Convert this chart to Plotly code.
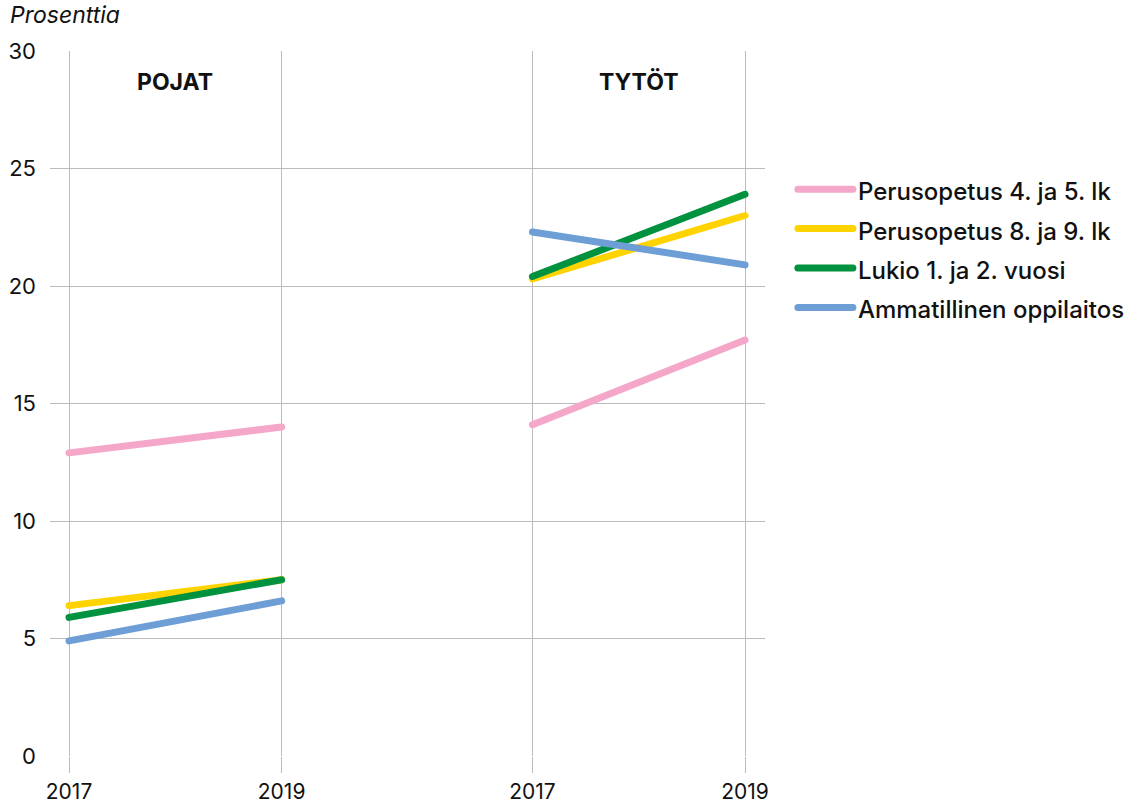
import plotly.graph_objects as go

years = ["2017", "2019"]
groups = ["POJAT", "TYTÖT"]
series = ["Perusopetus 4. ja 5. lk", "Perusopetus 8. ja 9. lk", "Lukio 1. ja 2. vuosi", "Ammatillinen oppilaitos"]
pojat = [[12.9, 14.0], [6.4, 7.5], [5.9, 7.5], [4.9, 6.6]]
tytot = [[14.1, 17.7], [20.3, 23.0], [20.4, 23.9], [22.3, 20.9]]
colors = ["#F4A7C9", "#FFD300", "#00923F", "#6E9ED6"]
y_ticks = [0, 5, 10, 15, 20, 25, 30]

# layout positions of the two panels on the shared x axis
group_offsets = [0.0, 2.18]
xpos = [off + i for off in group_offsets for i in range(len(years))]

fig = go.Figure()
for name, p, t, c in zip(series, pojat, tytot, colors):
    xs = [group_offsets[0] + i for i in range(len(years))] + [None] + [group_offsets[1] + i for i in range(len(years))]
    ys = p + [None] + t
    fig.add_trace(go.Scatter(x=xs, y=ys, mode="lines",
                             name=f"<span style='font-size:24px'>{name}</span>",
                             hovertemplate=f"{name}: %{{y}}<extra></extra>",
                             line=dict(color=c, width=7), connectgaps=False))

FONT = "Inter"
fig.update_layout(
    width=1141, height=805,
    paper_bgcolor="white", plot_bgcolor="white",
    margin=dict(l=50, r=376, t=51, b=49, autoexpand=False),
    font=dict(family=FONT, size=22, color="#111"),
    showlegend=True,
    legend=dict(x=1.039, y=0.839, xanchor="left", yanchor="top",
                font=dict(family=FONT, size=28, color="#111", weight=500),
                tracegroupgap=0, itemwidth=55),
    xaxis=dict(range=[-0.0896, 3.274], tickvals=xpos, ticktext=years * 2,
               automargin=False,
               showgrid=True, gridcolor="#bbbbbb", gridwidth=1,
               ticks="outside", ticklen=16, tickcolor="#bbbbbb", tickwidth=1,
               zeroline=False, showline=False, ticklabelstandoff=1,
               tickfont=dict(family=FONT, size=21, color="#111")),
    yaxis=dict(range=[0, 30], tickvals=y_ticks, automargin=False,
               showgrid=True, gridcolor="#bbbbbb", gridwidth=1,
               zeroline=False, showline=False, ticks="",
               ticklabelstandoff=13,
               tickfont=dict(family=FONT, size=22, color="#111")),
)
for g, off in zip(groups, group_offsets):
    fig.add_annotation(x=off + 0.5, y=28.7, text=g, showarrow=False,
                       font=dict(family=FONT, size=23, color="#111", weight=700))
fig.add_annotation(x=0, y=1, xref="paper", yref="paper", xshift=-42, yshift=20,
                   text="<i>Prosenttia</i>", showarrow=False, xanchor="left", yanchor="bottom",
                   font=dict(family=FONT, size=23, color="#111"))

post = (
    "document.body.style.margin='0';document.body.style.overflow='hidden';"
    "var gd=document.getElementById('{plot_id}');"
    "function rc(){gd.querySelectorAll('path.js-line').forEach(function(p){p.style.strokeLinecap='round';});}"
    "rc();gd.on('plotly_afterplot',rc);"
)
fig.write_html("out.html", config={"displayModeBar": False}, post_script=post)
